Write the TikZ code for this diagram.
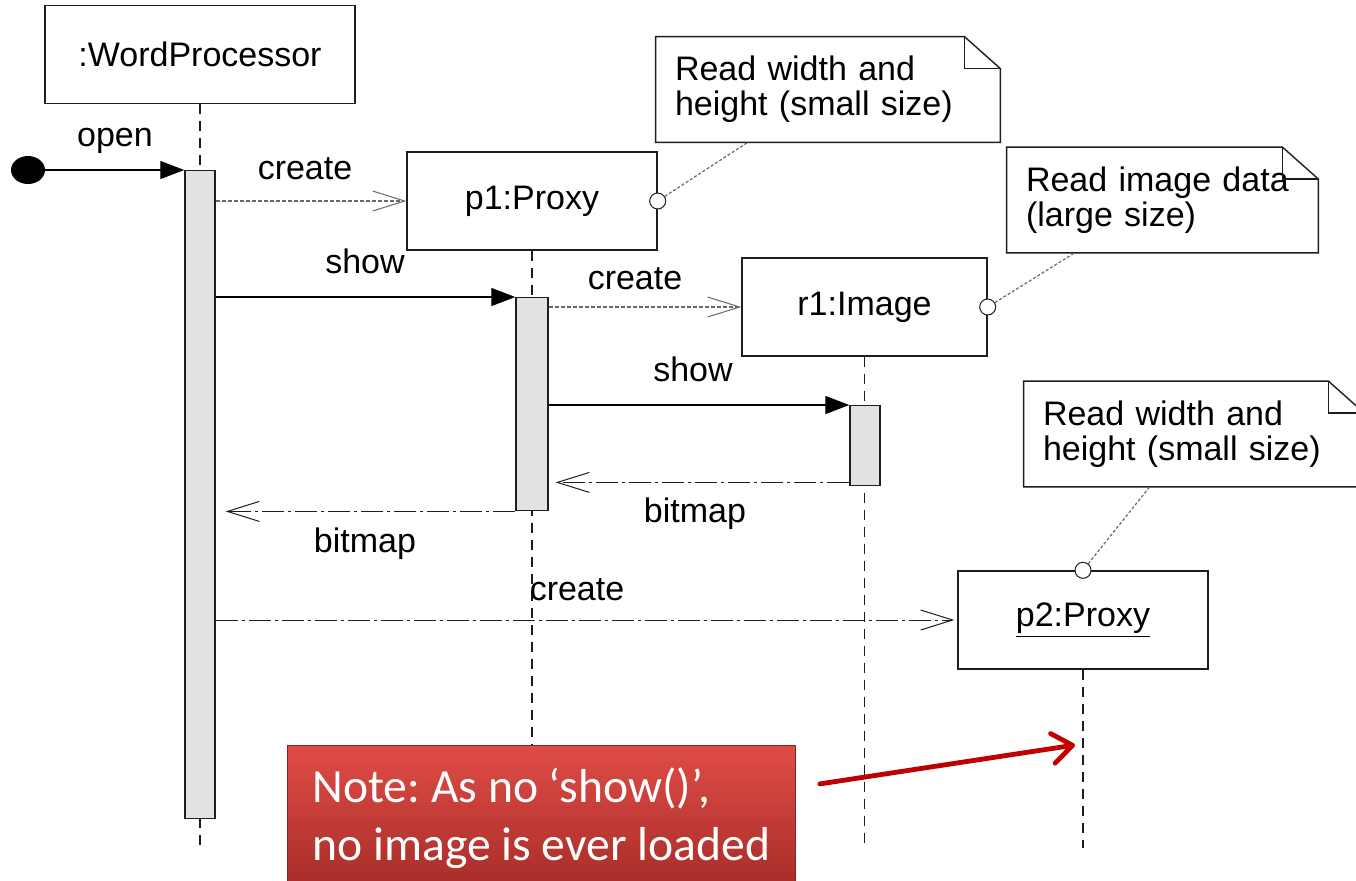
\documentclass[tikz,border=0pt]{standalone}
\usepackage{fontspec}
\setmainfont{Liberation Sans}
\newfontfamily\calloutfont{Carlito}
\usetikzlibrary{arrows.meta,calc,positioning,shapes.geometric}
\frenchspacing
\definecolor{seqInk}{RGB}{30,30,30}
\definecolor{seqBar}{RGB}{226,226,226}
\definecolor{seqLink}{RGB}{105,105,105}
\definecolor{calloutTop}{RGB}{224,76,70}
\definecolor{calloutBot}{RGB}{166,44,40}
\definecolor{calloutArrow}{RGB}{192,0,0}
\tikzset{
  lifebox/.style={draw=seqInk, line width=0.7pt, minimum width=125pt, minimum height=49pt,
    inner sep=0pt, font=\fontsize{17}{17}\selectfont},
  actbar/.style={draw=seqInk, fill=seqBar, line width=0.7pt, inner sep=0pt, minimum width=15pt},
  lifeline/.style={draw=seqInk, line width=0.6pt, dash pattern=on 5pt off 3.5pt},
  msglabel/.style={anchor=base, inner sep=0pt, font=\fontsize{17}{17}\selectfont},
  callmsg/.style={draw=black, line width=0.6pt, -{Triangle[length=12pt,width=9pt]}},
  createmsg/.style={draw=seqLink, line width=0.6pt, dash pattern=on 2pt off 1pt,
    -{Straight Barb[length=16pt,width=10pt,line width=0.5pt]}},
  replymsg/.style={draw=seqInk, line width=0.5pt, dash pattern=on 11pt off 2pt on 1.5pt off 2pt,
    -{Straight Barb[length=16pt,width=10pt,line width=0.5pt]}},
  startdot/.style={ellipse, fill=black, minimum width=17pt, minimum height=14pt, inner sep=0pt},
  notetext/.style={inner xsep=9.5pt, inner ysep=0pt, minimum height=52.5pt, align=left,
    font=\fontsize{17}{17.5}\selectfont},
  noteedge/.style={draw=seqInk, line width=0.7pt},
  notelink/.style={draw=seqLink, line width=0.6pt, dash pattern=on 1.5pt off 1pt},
  notepin/.style={circle, draw=seqInk, fill=white, line width=0.5pt, minimum size=8pt, inner sep=0pt},
  callout/.style={anchor=north west, top color=calloutTop, bottom color=calloutBot,
    draw=calloutBot!80!black, line width=0.4pt, minimum width=254pt, minimum height=72.5pt,
    inner xsep=10.5pt, align=left, text=white,
    font=\calloutfont\fontsize{23.8}{29}\selectfont},
  callarrow/.style={draw=calloutArrow, line width=2.4pt, line cap=round,
    -{Straight Barb[length=10pt,width=15pt,round]}}
}
% note with a folded corner: name, centre, text width, text
\newcommand{\umlnote}[4]{%
  \node[notetext, text width=#3] (#1) at (#2) {#4};
  \draw[noteedge] (#1.south west) -- (#1.north west) -- ([xshift=-18pt]#1.north east)
    -- ([yshift=-16pt]#1.north east) -- (#1.south east) -- cycle;
  \draw[noteedge] ([xshift=-18pt]#1.north east) |- ([yshift=-16pt]#1.north east);
}
\begin{document}
\begin{tikzpicture}[x=0.5pt,y=-0.5pt]
  \path[use as bounding box, fill=white] (0,0) rectangle (1356,880);

  % objects
  \node[lifebox, minimum width=155pt] (wp) at (200,54.5) {:WordProcessor};
  \node[lifebox] (p1) at (532,201) {p1:Proxy};
  \node[lifebox, minimum width=122.5pt] (r1) at (864.5,307) {r1:Image};
  \node[lifebox] (p2) at (1083,620) {\underline{p2:Proxy}};

  % lifelines
  \coordinate (lineend) at (0,848);
  \draw[lifeline] (wp.south) -- (wp.south |- lineend);
  \draw[lifeline] (p1.south) -- (p1.south |- lineend);
  \draw[lifeline] (r1.south) -- (r1.south |- lineend);
  \draw[lifeline] (p2.south) -- (p2.south |- lineend);

  % activations
  \node[actbar, anchor=north, minimum height=324pt] (wpact) at (200,170) {};
  \node[actbar, anchor=north, minimum width=16pt, minimum height=106.5pt] (p1act) at (532,297) {};
  \node[actbar, anchor=north, minimum height=40pt] (r1act) at (865,405) {};

  % messages
  \node[startdot] (start) at (28,170) {};
  \draw[callmsg] (start) -- (wpact.north west);
  \node[msglabel] (openlbl) at (115,146) {open};

  \draw[createmsg] (wpact.east |- p1.west) -- (p1.west);
  \node[msglabel] (create1lbl) at (305,179) {create};

  \draw[callmsg] (wpact.east |- p1act.north) -- (p1act.north west);
  \node[msglabel] (show1lbl) at (365,273) {show};

  \draw[createmsg] (p1act.east |- r1.west) -- (r1.west);
  \node[msglabel] (create2lbl) at (635,289) {create};

  \draw[callmsg] (p1act.east |- r1act.north) -- (r1act.north west);
  \node[msglabel] (show2lbl) at (693,381) {show};

  \draw[replymsg, shorten >=3.5pt] ([yshift=2pt]r1act.south west)
    -- ([yshift=2pt]r1act.south west -| p1act.east);
  \node[msglabel] (bitmap1lbl) at (695,522) {bitmap};

  \draw[replymsg, shorten >=5pt] (p1act.south west) -- (p1act.south west -| wpact.east);
  \node[msglabel] (bitmap2lbl) at (365,552) {bitmap};

  \draw[replymsg, shorten >=1.5pt] (wpact.east |- p2.west) -- (p2.west);
  \node[msglabel] (create3lbl) at (577,600) {create};

  % notes
  \umlnote{note1}{828,89.5}{153pt}{Read width and\\height (small size)}
  \umlnote{note2}{1162.5,200}{136.5pt}{Read image data\\(large size)}
  \umlnote{note3}{1194,434}{151pt}{Read width and\\height (small size)}
  \node[notepin] (pin1) at (p1.east) {};
  \node[notepin] (pin2) at (r1.east) {};
  \node[notepin] (pin3) at (p2.north) {};
  \draw[notelink] (pin1) -- ([xshift=46pt]note1.south west);
  \draw[notelink] (pin2) -- ([xshift=34pt]note2.south west);
  \draw[notelink] (pin3) -- ([xshift=63pt]note3.south west);

  % red remark
  \node[callout] (remark) at (287,745) {Note: As no ‘show()’,\\no image is ever loaded};
  \coordinate (p2mark) at (1075,745);
  \draw[callarrow] ([xshift=12pt,yshift=17pt]remark.east) -- (p2mark);
\end{tikzpicture}
\end{document}
